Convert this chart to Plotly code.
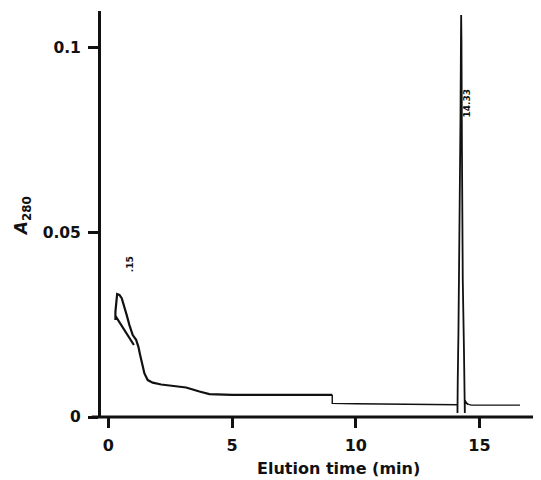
import plotly.graph_objects as go

# ---- data (elution time in min, A280) ----
early_time = [1.03, 0.283, 0.283, 0.283, 0.352, 0.445, 0.538, 0.647, 0.74, 0.849,
              0.983, 1.12, 1.213, 1.282, 1.362, 1.456, 1.589, 1.791, 2.131, 2.6,
              3.14, 3.68, 4.08, 5.0, 6.0, 7.0, 8.0, 9.05]
early_abs = [0.0195, 0.0274, 0.0263, 0.0285, 0.0333, 0.0331, 0.0322, 0.0299, 0.0276, 0.0249,
             0.0222, 0.0209, 0.019, 0.0168, 0.0141, 0.0118, 0.0100, 0.0093, 0.0088, 0.0084,
             0.0080, 0.0069, 0.0062, 0.0060, 0.0060, 0.0060, 0.0060, 0.0060]

mid_time = [9.05, 9.05, 10.0, 11.0, 12.0, 13.0, 14.0, 14.113]
mid_abs = [0.0060, 0.0037, 0.0036, 0.0035, 0.0035, 0.0034, 0.0033, 0.0033]

peak_time = [14.113, 14.113, 14.124, 14.153, 14.193, 14.234, 14.254, 14.262, 14.274, 14.294,
             14.327, 14.375, 14.40, 14.41, 14.41, 14.47, 14.55]
peak_abs = [0.0033, 0.0011, 0.0100, 0.0236, 0.0452, 0.0805, 0.1021, 0.1089, 0.1021, 0.0724,
            0.0371, 0.0182, 0.0100, 0.0011, 0.0045, 0.0038, 0.0034]

tail_time = [14.55, 14.68, 15.5, 16.64]
tail_abs = [0.0034, 0.0032, 0.0032, 0.0032]

peak_labels = [".15", "14.33"]
peak_label_time = [0.85, 14.48]
peak_label_abs = [0.0415, 0.0848]

x_ticks = [0, 5, 10, 15]
y_ticks = [0, 0.05, 0.1]
y_tick_text = ["0", "0.05", "0.1"]

FONT = "DejaVu Sans"
INK = "#111111"

fig = go.Figure()
fig.add_trace(go.Scatter(x=early_time, y=early_abs, mode="lines",
                         line=dict(color=INK, width=2.2), showlegend=False))
fig.add_trace(go.Scatter(x=mid_time, y=mid_abs, mode="lines",
                         line=dict(color=INK, width=1.4), showlegend=False))
fig.add_trace(go.Scatter(x=peak_time, y=peak_abs, mode="lines",
                         line=dict(color=INK, width=1.8), showlegend=False))
fig.add_trace(go.Scatter(x=tail_time, y=tail_abs, mode="lines",
                         line=dict(color=INK, width=1.3), showlegend=False))

for t, xv, yv in zip(peak_labels, peak_label_time, peak_label_abs):
    fig.add_annotation(x=xv, y=yv, text="<b>%s</b>" % t, showarrow=False, textangle=-90,
                       font=dict(family=FONT, size=9, color=INK))

fig.add_annotation(xref="paper", yref="paper", x=0.54, y=-0.128,
                   text="<b>Elution time (min)</b>", showarrow=False, yanchor="middle",
                   font=dict(family=FONT, size=16, color=INK))
fig.add_annotation(xref="paper", yref="paper", x=-0.21, y=0.495,
                   text="<i>A</i><sub>280</sub>", showarrow=False, textangle=-90,
                   font=dict(family=FONT, size=17, color=INK, weight="bold"))

# x-axis baseline extends a little to the left of the y-axis
fig.add_shape(type="line", xref="paper", yref="paper", x0=-0.021, x1=1.0, y0=0, y1=0,
              line=dict(color=INK, width=3))

# page body has an 8 px margin, so the figure is sized to fill the rest of the window
fig.update_layout(
    width=533, height=472,
    margin=dict(l=93, r=0, t=3, b=63),
    paper_bgcolor="white", plot_bgcolor="white",
    font=dict(family=FONT, color=INK),
    xaxis=dict(range=[-0.30, 17.49], tickvals=x_ticks, ticks="outside", ticklen=10,
               tickwidth=3, tickcolor=INK, showline=False, showgrid=False,
               zeroline=False, tickfont=dict(family=FONT, size=16, color=INK, weight="bold"),
               ticklabelstandoff=4),
    yaxis=dict(range=[0, 0.11], tickvals=y_ticks, ticktext=y_tick_text, ticks="outside",
               ticklen=10, tickwidth=3, tickcolor=INK, showline=True, linewidth=3,
               linecolor=INK, showgrid=False, zeroline=False,
               tickfont=dict(family=FONT, size=15.5, color=INK, weight="bold"),
               ticklabelstandoff=4),
)

fig.write_html("out.html")
